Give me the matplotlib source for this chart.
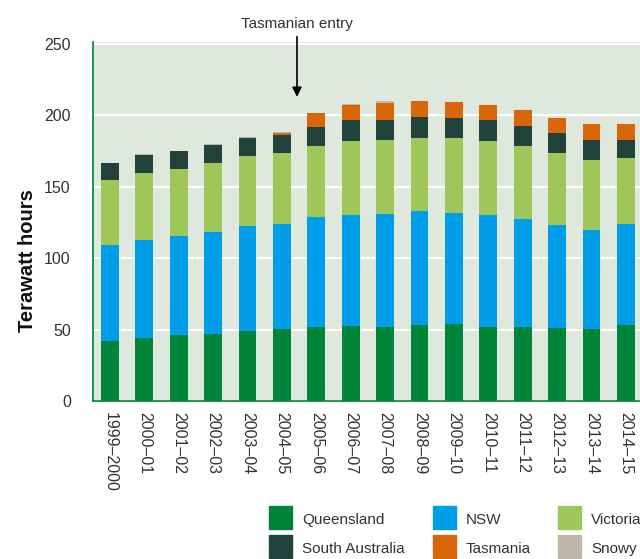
import matplotlib.pyplot as plt
import numpy as np
from matplotlib.patches import Rectangle

plt.rcParams['font.family'] = ['Liberation Sans', 'DejaVu Sans']

years = ['1999–2000', '2000–01', '2001–02', '2002–03', '2003–04', '2004–05',
         '2005–06', '2006–07', '2007–08', '2008–09', '2009–10', '2010–11',
         '2011–12', '2012–13', '2013–14', '2014–15']
queensland = [42, 44, 46, 46.7, 48.8, 50.2, 51.6, 52.3, 52, 53.5, 54.2, 52, 52, 51.4, 50.7, 53.5]
nsw = [67, 68.5, 69.3, 71.3, 73.5, 73.5, 77, 77.7, 78.7, 79.3, 77.8, 78, 75.3, 71.6, 69.3, 70.2]
victoria = [45.5, 47, 47, 48.4, 49, 49.7, 49.7, 51.8, 52.3, 51.7, 52.5, 51.8, 51, 50.4, 49, 46.8]
south_australia = [12.5, 12.5, 12.6, 12.6, 12.7, 12.6, 13.4, 14.8, 14, 14.7, 14, 14.8, 14, 14, 14, 12.5]
tasmania = [0, 0, 0, 0, 0, 1.7, 9.8, 10.5, 11.5, 11.2, 11.2, 10.4, 11.2, 10.5, 10.7, 10.7]
snowy = [0, 0.7, 0, 0.7, 0.7, 0.5, 0, 0.7, 1.3, 0, 0, 0, 0, 0, 0, 0]

names = ['Queensland', 'NSW', 'Victoria', 'South Australia', 'Tasmania', 'Snowy']
colors = ['#00843a', '#009ee8', '#9ec65a', '#22433b', '#d8670c', '#c0b6aa']
series = [queensland, nsw, victoria, south_australia, tasmania, snowy]

fig = plt.figure(figsize=(6.4, 5.59), dpi=100)
ax = fig.add_axes([93 / 640, 1 - 401 / 559, 1 - 93 / 640, 359 / 559])
ax.set_facecolor('#dee8dd')

x = np.arange(len(years))
bottom = np.zeros(len(years))
for vals, c in zip(series, colors):
    ax.bar(x, vals, width=0.52, bottom=bottom, color=c, zorder=3)
    bottom += np.array(vals)

ax.set_xlim(-0.49, 15.41)
ax.set_ylim(0, 251.4)
ax.set_yticks([0, 50, 100, 150, 200, 250])
ax.grid(axis='y', color='white', linewidth=1.5, zorder=1)
ax.set_xticks(x)
ax.set_xticklabels(years, rotation=-90, fontsize=11, color='#333333', va='top')
ax.tick_params(axis='both', length=0, labelsize=11.5, colors='#333333')
ax.tick_params(axis='y', pad=16)
ax.tick_params(axis='x', pad=8)
for s in ['top', 'right']:
    ax.spines[s].set_visible(False)
for s in ['left', 'bottom']:
    ax.spines[s].set_color('#00843a')
    ax.spines[s].set_linewidth(1.2)
ax.set_ylabel('Terawatt hours', fontsize=14.5, fontweight='bold', color='#111111')
ax.yaxis.set_label_coords(-0.102, 0.39)

ax.annotate('Tasmanian entry', xy=(5.44, 211), xytext=(5.44, 259),
            textcoords='data', ha='center', va='bottom', fontsize=11, color='#333333',
            annotation_clip=False,
            arrowprops=dict(arrowstyle='-|>', color='black', lw=1.2, mutation_scale=14))

# legend
col_x = [269, 433, 558]
row_y = [506, 535]
for i, (name, c) in enumerate(zip(names, colors)):
    r, cidx = divmod(i, 3)
    px, py = col_x[cidx], row_y[r]
    fig.patches.append(Rectangle((px / 640, 1 - (py + 23) / 559), 23 / 640, 23 / 559,
                                 transform=fig.transFigure, color=c, figure=fig))
    fig.text((px + 33) / 640, 1 - (py + 14) / 559, name, fontsize=11,
             color='#333333', va='center', ha='left')

fig.savefig('out.png', dpi=100)
